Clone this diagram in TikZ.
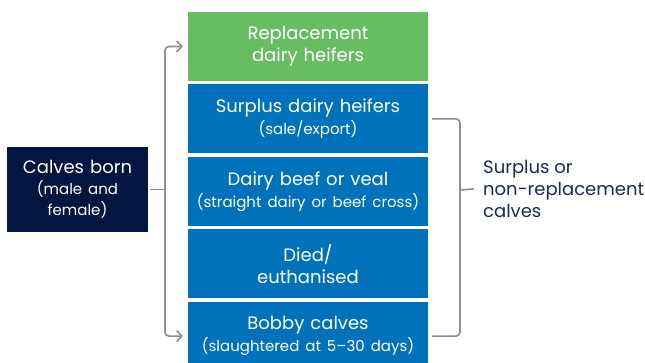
\documentclass[tikz,border=0pt]{standalone}
\usepackage{fontspec}
\setmainfont{Poppins}
\usepackage{tikz}
\usetikzlibrary{arrows.meta, positioning}
\definecolor{heifergreen}{HTML}{68BC62}
\definecolor{dairyblue}{HTML}{0072BB}
\definecolor{bornnavy}{HTML}{02163F}
\definecolor{linkgray}{HTML}{8E8E93}
\definecolor{labelnavy}{HTML}{1C2B4D}
\newcommand{\subsize}{\fontsize{15}{21}\selectfont}
\tikzstyle{keep} = [rectangle, minimum width=240pt, minimum height=69pt, text width=238pt, inner sep=0pt, align=center, fill=heifergreen, text=white, font=\fontsize{18}{22}\selectfont]
\tikzstyle{outlet} = [keep, fill=dairyblue]
\tikzstyle{born} = [rectangle, minimum width=141pt, minimum height=85pt, text width=139pt, inner sep=0pt, align=center, fill=bornnavy, text=white, font=\fontsize{18}{21}\selectfont]
\tikzstyle{group} = [align=left, inner sep=0pt, text=labelnavy, font=\fontsize{18}{22}\selectfont]
\tikzstyle{link} = [draw=linkgray, line width=1.6pt, rounded corners=4pt]
\tikzstyle{arrow} = [link, -{Straight Barb[length=5pt,width=11pt]}]

\begin{document}
\begin{tikzpicture}[x=1pt, y=-1pt, node distance=3pt]
\useasboundingbox (0,0) rectangle (645,362);
\node (keep) [keep] at (308,46.5) {Replacement\\dairy heifers};
\node (surplus) [outlet, below=of keep] {Surplus dairy heifers\\\subsize(sale/export)};
\node (beef) [outlet, below=of surplus] {Dairy beef or veal\\\subsize(straight dairy or beef cross)};
\node (died) [outlet, below=of beef] {Died/\\euthanised};
\node (bobby) [outlet, below=of died] {Bobby calves\\\subsize(slaughtered at 5--30 days)};
\node (born) [born] at (77.5,189.5) {Calves born\\\subsize(male and\\female)};
\node (nonrep) [group, anchor=west] at (483,189) {Surplus or\\non-replacement\\calves};
\coordinate (split) at (165,189.5);
\coordinate (join) at (460,190);
% calves born to the two ends
\draw [link] ([xshift=2pt]born.east) -- (split);
\draw [arrow] (split) |- ([xshift=-5pt]keep.west);
\draw [arrow] (split) |- ([xshift=-5pt]bobby.west);
% bracket round the surplus group
\draw [link] ([xshift=4pt]surplus.east) -| (join) |- ([xshift=4pt]bobby.east);
\draw [link] (join) -- ([xshift=-9pt]nonrep.west);
\end{tikzpicture}
\end{document}
